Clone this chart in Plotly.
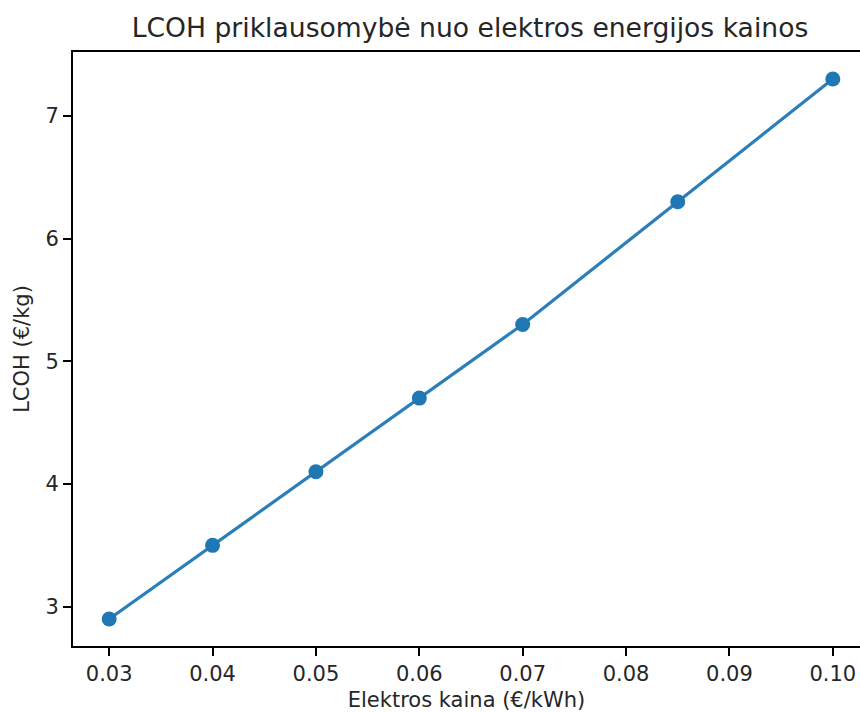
import plotly.graph_objects as go

# Data
electricity_price = [0.03, 0.04, 0.05, 0.06, 0.07, 0.085, 0.10]
lcoh = [2.9, 3.5, 4.1, 4.7, 5.3, 6.3, 7.3]

x_tickvals = [0.03, 0.04, 0.05, 0.06, 0.07, 0.08, 0.09, 0.10]
x_ticktext = ["0.03", "0.04", "0.05", "0.06", "0.07", "0.08", "0.09", "0.10"]
y_tickvals = [3, 4, 5, 6, 7]
y_ticktext = ["3", "4", "5", "6", "7"]

FONT = "DejaVu Sans"
TXT = "#262626"
W, H = 860, 712

fig = go.Figure()
fig.add_trace(go.Scatter(
    x=electricity_price, y=lcoh, mode="lines+markers",
    line=dict(color="#2a7fba", width=3.2),
    marker=dict(color="#1f77b4", size=15),
    showlegend=False,
))

fig.update_layout(
    width=W, height=H,
    margin=dict(l=73, r=0, t=52, b=66),
    plot_bgcolor="white", paper_bgcolor="white",
    title=dict(
        text="LCOH priklausomybė nuo elektros energijos kainos",
        font=dict(family=FONT, size=26.6, color=TXT),
        x=470 / W, xref="container", xanchor="center",
        y=1 - 28 / H, yref="container", yanchor="middle",
    ),
    xaxis=dict(
        range=[0.0265, 0.10263],
        tickvals=x_tickvals, ticktext=x_ticktext,
        showgrid=False, zeroline=False,
        showline=True, linecolor="black", linewidth=1.8, mirror=True,
        ticks="outside", ticklen=8, tickwidth=1.8, tickcolor="black",
        tickfont=dict(family=FONT, size=21, color=TXT),
        title=dict(text="Elektros kaina (€/kWh)",
                   font=dict(family=FONT, size=21, color=TXT), standoff=8),
    ),
    yaxis=dict(
        range=[2.68, 7.52],
        tickvals=y_tickvals, ticktext=y_ticktext,
        showgrid=False, zeroline=False,
        showline=True, linecolor="black", linewidth=1.8, mirror=False,
        ticks="outside", ticklen=8, tickwidth=1.8, tickcolor="black",
        tickfont=dict(family=FONT, size=21, color=TXT),
        title=dict(text="LCOH (€/kg)",
                   font=dict(family=FONT, size=21, color=TXT), standoff=10),
    ),
)

fig.write_html("out.html")
